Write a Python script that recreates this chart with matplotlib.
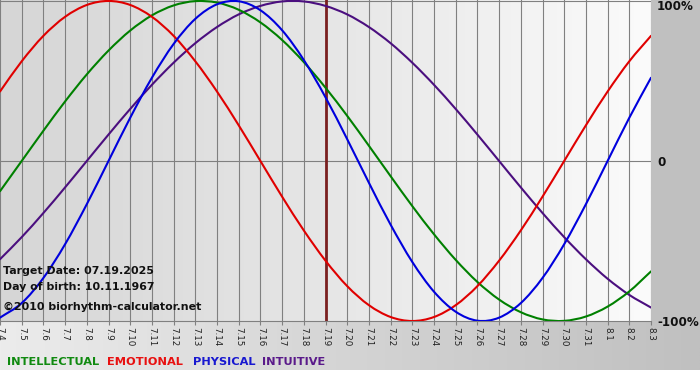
import matplotlib
matplotlib.use("Agg")
import matplotlib.pyplot as plt
import numpy as np
from matplotlib.path import Path
from matplotlib.patches import PathPatch
from matplotlib.colors import LinearSegmentedColormap

# ---- data (percent / 100, one value per day) ----
tick_labels = ["7.4", "7.5", "7.6", "7.7", "7.8", "7.9", "7.10", "7.11", "7.12", "7.13",
               "7.14", "7.15", "7.16", "7.17", "7.18", "7.19", "7.20", "7.21", "7.22", "7.23",
               "7.24", "7.25", "7.26", "7.27", "7.28", "7.29", "7.30", "7.31", "8.1", "8.2", "8.3"]
target_label = "7.19"

physical = [-0.979, -0.888, -0.731, -0.520, -0.270, 0.000, 0.270, 0.520, 0.731, 0.888, 0.979,
            0.998, 0.942, 0.817, 0.631, 0.398, 0.136, -0.136, -0.398, -0.631, -0.817, -0.942,
            -0.998, -0.979, -0.888, -0.731, -0.520, -0.270, 0.000, 0.270, 0.520]
emotional = [0.434, 0.623, 0.782, 0.901, 0.975, 1.000, 0.975, 0.901, 0.782, 0.623, 0.434,
             0.223, 0.000, -0.223, -0.434, -0.623, -0.782, -0.901, -0.975, -1.000, -0.975,
             -0.901, -0.782, -0.623, -0.434, -0.223, 0.000, 0.223, 0.434, 0.623, 0.782]
intellectual = [-0.189, 0.000, 0.189, 0.372, 0.541, 0.690, 0.815, 0.910, 0.972, 0.999, 0.990,
                0.945, 0.866, 0.756, 0.618, 0.458, 0.282, 0.095, -0.095, -0.282, -0.458,
                -0.618, -0.756, -0.866, -0.945, -0.990, -0.999, -0.972, -0.910, -0.815, -0.690]
intuitive = [-0.614, -0.476, -0.325, -0.165, 0.000, 0.165, 0.325, 0.476, 0.614, 0.736, 0.837,
             0.916, 0.969, 0.997, 0.997, 0.969, 0.916, 0.837, 0.736, 0.614, 0.476, 0.325,
             0.165, 0.000, -0.165, -0.325, -0.476, -0.614, -0.736, -0.837, -0.916]

series_names = ["INTELLECTUAL", "EMOTIONAL", "PHYSICAL", "INTUITIVE"]
series_colors = ["#008000", "#e00000", "#0000dd", "#4b0f7f"]
legend_colors = ["#108a10", "#e81010", "#1818d0", "#5a1a8a"]
info_lines = ["Target Date: 07.19.2025", "Day of birth: 10.11.1967", "\u00a92010 biorhythm-calculator.net"]
right_labels = ["100%", "0", "-100%"]

W, H = 700, 380
fig = plt.figure(figsize=(W / 100, H / 100), dpi=100)

# ---- background ----
bg = fig.add_axes([0, 0, 1, 1], zorder=-10)
bg.set_xlim(0, W)
bg.set_ylim(H, 0)
bg.axis("off")
bg.add_patch(plt.Rectangle((0, 0), W, H, color="white", zorder=0))
bg.add_patch(plt.Rectangle((651, 0), W - 651, 322, color="#c0c0c0", zorder=1))
grad = np.linspace(0, 1, 256)[None, :]
cm_bottom = LinearSegmentedColormap.from_list("b", ["#ececec", "#d4d4d4", "#c0c0c0"])
bg.imshow(grad, cmap=cm_bottom, extent=(0, W, 370, 321), aspect="auto", zorder=1)

# ---- main plot ----
left_px, right_px, top_px, bot_px = 0, 651, 0, 321
ax = fig.add_axes([left_px / W, 1 - bot_px / H, (right_px - left_px) / W, (bot_px - top_px) / H])
n = len(tick_labels)
x = np.arange(n)
ax.set_xlim(0, n - 1)
ax.set_ylim(-1.0, 1.006)
cm_plot = LinearSegmentedColormap.from_list("p", ["#d6d6d6", "#e6e6e6", "#fbfbfb"])
ax.imshow(grad, cmap=cm_plot, extent=(0, n - 1, -1.0, 1.006), aspect="auto", zorder=0)

for xi in x:
    ax.axvline(xi, color="#808080", lw=0.8, zorder=1)
ax.axhline(0, color="#808080", lw=0.8, zorder=1)
ax.axhline(1.0, color="#808080", lw=0.8, zorder=1)

ti = tick_labels.index(target_label)
ax.axvline(ti, color="#7a2020", lw=2.0, zorder=2)


def smooth_path(xs, ys):
    pts = np.column_stack([xs, ys]).astype(float)
    verts = [pts[0]]
    codes = [Path.MOVETO]
    m = len(pts)
    for i in range(m - 1):
        p0 = pts[i - 1] if i > 0 else 2 * pts[0] - pts[1]
        p1 = pts[i]
        p2 = pts[i + 1]
        p3 = pts[i + 2] if i + 2 < m else 2 * pts[-1] - pts[-2]
        c1 = p1 + (p2 - p0) / 6.0
        c2 = p2 - (p3 - p1) / 6.0
        verts += [c1, c2, p2]
        codes += [Path.CURVE4] * 3
    return Path(verts, codes)


for vals, col, z in [(intuitive, series_colors[3], 3), (intellectual, series_colors[0], 4),
                     (emotional, series_colors[1], 5), (physical, series_colors[2], 6)]:
    patch = PathPatch(smooth_path(x, vals), fill=False, edgecolor=col, lw=1.5, zorder=z,
                      capstyle="round", joinstyle="round")
    ax.add_patch(patch)

for s in ["left", "right", "top"]:
    ax.spines[s].set_visible(False)
ax.spines["bottom"].set_color("#808080")
ax.spines["bottom"].set_linewidth(0.8)
ax.set_yticks([])
ax.set_xticks(x)
ax.set_xticklabels(tick_labels, rotation=-90, fontsize=6.3, color="#202020",
                   va="top", ha="center")
ax.tick_params(axis="x", length=3, width=0.8, color="#808080", pad=1.5)

# ---- texts ----
for i, t in enumerate(info_lines):
    fig.text(3 / W, 1 - [271, 287, 307][i] / H, t, fontsize=7.9, fontweight="bold",
             color="#111111", va="center", ha="left", zorder=20)

for t, yp in zip(right_labels, [7, 162, 322]):
    fig.text(657 / W, 1 - yp / H, t, fontsize=8.6, fontweight="bold", color="#111111",
             va="center", ha="left")

for name, col, xp in zip(series_names, legend_colors, [7, 107, 193, 262]):
    fig.text(xp / W, 1 - 362 / H, name, fontsize=8.2, fontweight="bold", color=col,
             va="center", ha="left")

fig.savefig("out.png", dpi=100)
